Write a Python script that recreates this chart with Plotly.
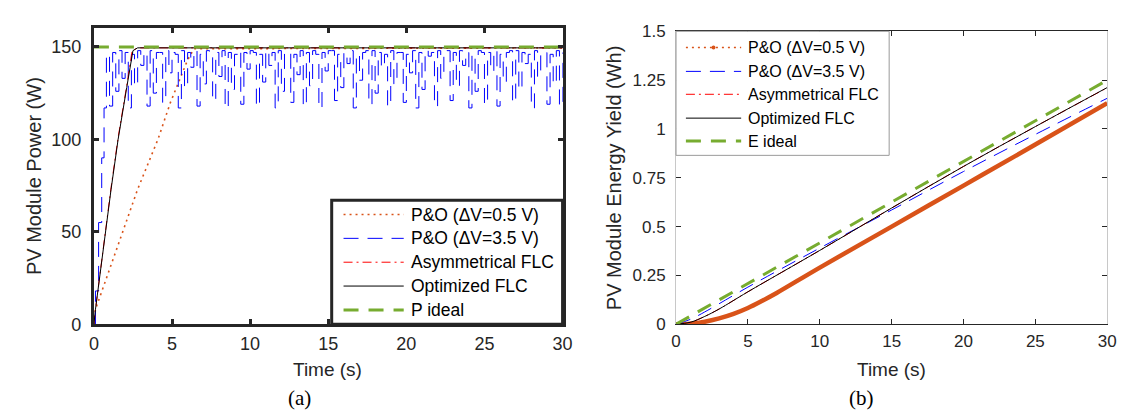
import numpy as np
import plotly.graph_objects as go

# ---- (a) PV module power, W ----
t_po05 = [0, 0.1, 2.8, 4.1, 4.9, 5.5, 6.0, 6.4, 30]
p_po05 = [0, 8, 73, 100, 120, 133, 143, 149, 149.5]

t_po35_rise = [0, 0.1, 0.3, 0.5, 0.65]
p_po35_rise = [0, 18, 55, 90, 117]
# P&O 3.5 V oscillation, sampled every 0.2 s from 0.8 s
p_po35_osc = [
    146, 118, 147, 126, 148, 133, 147, 117, 146, 129, 148, 140, 147, 118, 148, 125, 147, 147, 120, 148, 136, 147, 146, 117, 148, 128,
    147, 139, 148, 118, 146, 130, 148, 146, 121, 147, 134, 148, 117, 147, 127, 146, 148, 119, 147, 138, 148, 147, 118, 146, 131, 148,
    140, 147, 117, 148, 126, 147, 147, 120, 146, 135, 148, 118, 147, 129, 148, 146, 117, 147, 137, 148, 148, 121, 146, 128, 147, 141,
    148, 117, 146, 132, 147, 148, 119, 148, 125, 147, 139, 146, 118, 148, 130, 147, 147, 120, 146, 136, 148, 117, 147, 127, 148, 145,
    147, 118, 148, 133, 146, 148, 121, 147, 129, 148, 140, 147, 117, 146, 126, 148, 147, 119, 147, 137, 148, 118, 146, 131, 147, 148,
    120, 148, 127, 147, 141, 146, 117, 148, 134, 147, 147, 119, 146, 130, 148, 118, 147,
]
t_po35_osc = np.round(0.8 + 0.2 * np.arange(len(p_po35_osc)), 2)

t_asym = [0, 0.1, 1.1, 1.55, 2.1, 2.45, 2.8, 30]
p_asym = [0, 8, 74, 101, 129, 148, 149.5, 149.5]
t_opt = [0, 0.1, 1.1, 1.55, 2.1, 2.5, 2.8, 30]
p_opt = [0, 8, 73, 100, 128, 148, 149.5, 149.5]
t_ideal = [0, 30]
p_ideal = [150, 150]

# ---- (b) PV module energy yield, Wh ----
t_e_po05 = [0, 1, 2, 3, 4, 5, 6, 7, 10, 15, 20, 25, 30]
e_po05 = [0, 0.003, 0.013, 0.03, 0.053, 0.083, 0.12, 0.16, 0.29, 0.5, 0.71, 0.92, 1.132]
t_e_po35 = [0, 1, 2, 5, 10, 15, 20, 25, 30]
e_po35 = [0, 0.025, 0.063, 0.19, 0.39, 0.585, 0.782, 0.972, 1.157]
t_e_asym = [0, 1, 2, 3, 5, 10, 15, 20, 25, 30]
e_asym = [0, 0.01, 0.04, 0.078, 0.166, 0.378, 0.595, 0.808, 1.012, 1.211]
t_e_opt = [0, 1, 2, 3, 5, 10, 15, 20, 25, 30]
e_opt = [0, 0.01, 0.04, 0.078, 0.166, 0.378, 0.595, 0.808, 1.012, 1.212]
t_e_ideal = [0, 30]
e_ideal = [0, 1.25]

names_a = ["P&O (ΔV=0.5 V)", "P&O (ΔV=3.5 V)", "Asymmetrical FLC", "Optimized FLC", "P ideal"]
names_b = ["P&O (ΔV=0.5 V)", "P&O (ΔV=3.5 V)", "Asymmetrical FLC", "Optimized FLC", "E ideal"]

ORANGE = "#D95319"
BLUE = "#0000FF"
RED = "#FF0000"
GREEN = "#77AC30"
AX = "#262626"
FONT = "Liberation Sans, Arial, sans-serif"
SERIF = "Liberation Serif, Times New Roman, serif"

# line styles shared by plot and legend: (colour, width, dash)
st_po05 = (ORANGE, 1.6, "2px,4px")
st_po35 = (BLUE, 1, "15px,9px")
st_asym = (RED, 1, "9px,4px,2px,4px")
st_opt = ("black", 1, "solid")
st_ideal = (GREEN, 3, "15px,10px")


def ln(st, **kw):
    return dict(color=st[0], width=st[1], dash=st[2], **kw)


fig = go.Figure()

# left panel
fig.add_trace(go.Scatter(x=t_po05, y=p_po05, mode="lines", name=names_a[0], line=ln(st_po05)))
fig.add_trace(go.Scatter(x=list(t_po35_rise) + list(t_po35_osc), y=p_po35_rise + p_po35_osc,
                         mode="lines", name=names_a[1], line=ln(st_po35, shape="hv")))
fig.add_trace(go.Scatter(x=t_asym, y=p_asym, mode="lines", name=names_a[2], line=ln(st_asym)))
fig.add_trace(go.Scatter(x=t_opt, y=p_opt, mode="lines", name=names_a[3], line=ln(st_opt)))
fig.add_trace(go.Scatter(x=t_ideal, y=p_ideal, mode="lines", name=names_a[4], line=ln(st_ideal)))

# right panel
fig.add_trace(go.Scatter(x=t_e_po05, y=e_po05, mode="lines", name=names_b[0],
                         line=dict(color=ORANGE, width=4.5, shape="spline"), xaxis="x2", yaxis="y2"))
fig.add_trace(go.Scatter(x=t_e_po35, y=e_po35, mode="lines", name=names_b[1],
                         line=ln(st_po35, shape="spline"), xaxis="x2", yaxis="y2"))
fig.add_trace(go.Scatter(x=t_e_asym, y=e_asym, mode="lines", name=names_b[2],
                         line=ln(st_asym, shape="spline"), xaxis="x2", yaxis="y2"))
fig.add_trace(go.Scatter(x=t_e_opt, y=e_opt, mode="lines", name=names_b[3],
                         line=ln(st_opt, shape="spline"), xaxis="x2", yaxis="y2"))
fig.add_trace(go.Scatter(x=t_e_ideal, y=e_ideal, mode="lines", name=names_b[4],
                         line=ln(st_ideal), xaxis="x2", yaxis="y2"))

W, H = 1125, 414


def px_x(p):
    return p / W


def px_y(p):
    return 1 - p / H


fig.update_layout(
    width=W, height=H,
    margin=dict(l=0, r=0, t=0, b=0),
    paper_bgcolor="white", plot_bgcolor="white",
    font=dict(family=FONT, color=AX),
    showlegend=False,
    xaxis=dict(domain=[px_x(82), px_x(557)], anchor="y", range=[0, 30],
               tickvals=[0, 5, 10, 15, 20, 25, 30], ticks="inside", ticklen=5, tickwidth=3,
               tickcolor=AX, showline=True, linewidth=3, linecolor=AX, mirror="ticks",
               showgrid=False, zeroline=False, tickfont=dict(family=FONT, size=18, color=AX),
               ticklabelstandoff=1),
    yaxis=dict(domain=[px_y(322), px_y(12)], anchor="x", range=[0, 160],
               tickvals=[0, 50, 100, 150], ticks="inside", ticklen=5, tickwidth=3,
               tickcolor=AX, showline=True, linewidth=3, linecolor=AX, mirror="ticks",
               showgrid=False, zeroline=False, tickfont=dict(family=FONT, size=18, color=AX),
               ticklabelstandoff=6),
    xaxis2=dict(domain=[px_x(672), px_x(1109)], anchor="y2", range=[0, 30],
                tickvals=[0, 5, 10, 15, 20, 25, 30], ticks="inside", ticklen=5, tickwidth=1,
                tickcolor=AX, showline=True, linewidth=1, linecolor=AX, mirror="ticks",
                showgrid=False, zeroline=False, tickfont=dict(family=FONT, size=17, color=AX),
                ticklabelstandoff=1),
    yaxis2=dict(domain=[px_y(322), px_y(15)], anchor="x2", range=[0, 1.5],
                tickvals=[0, 0.25, 0.5, 0.75, 1, 1.25, 1.5],
                ticktext=["0", "0.25", "0.5", "0.75", "1", "1.25", "1.5"],
                ticks="inside", ticklen=5, tickwidth=1,
                tickcolor=AX, showline=True, linewidth=1, linecolor="#c8c8c8", mirror="ticks",
                showgrid=False, zeroline=False, tickfont=dict(family=FONT, size=17, color=AX),
                ticklabelstandoff=6),
)

# axis titles and panel captions
annots = [
    ("Time (s)", 319, 369, 19, FONT, 0, AX),
    ("Time (s)", 890, 369, 19, FONT, 0, AX),
    ("(a)", 290, 399, 21, SERIF, 0, "black"),
    ("(b)", 860, 399, 21, SERIF, 0, "black"),
    ("PV Module Power (W)", 22, 167, 20, FONT, -90, AX),
    ("PV Module Energy Yield (Wh)", 609, 168, 20, FONT, -90, AX),
]
for text, x, y, size, fam, ang, col in annots:
    fig.add_annotation(text=text, x=px_x(x), y=px_y(y), xref="paper", yref="paper",
                       xanchor="center", yanchor="middle", showarrow=False, textangle=ang,
                       font=dict(family=fam, size=size, color=col))


# hand-placed legend boxes (MATLAB style)
def legend_box(x0, y0, x1, y1, rows, styles, names, sym_x0, sym_x1, text_x, size, border_col, border_w):
    fig.add_shape(type="rect", xref="paper", yref="paper",
                  x0=px_x(x0), x1=px_x(x1), y0=px_y(y1), y1=px_y(y0),
                  line=dict(color=border_col, width=border_w), fillcolor="white", layer="above")
    for ry, st, name in zip(rows, styles, names):
        fig.add_shape(type="line", xref="paper", yref="paper",
                      x0=px_x(sym_x0), x1=px_x(sym_x1), y0=px_y(ry), y1=px_y(ry),
                      line=ln(st), layer="above")
        fig.add_annotation(text=name, x=px_x(text_x), y=px_y(ry), xref="paper", yref="paper",
                           xanchor="left", yanchor="middle", showarrow=False,
                           font=dict(family=FONT, size=size, color="black"))


styles = [st_po05, st_po35, st_asym, st_opt, st_ideal]
legend_box(323, 192, 557, 322, [207, 232, 257, 282, 307], styles, names_a,
           335, 396, 401, 17.5, AX, 3)
legend_box(672, 15, 888, 145, [32, 57, 81, 106, 130], styles, names_b,
           682, 738, 743, 16, "#9a9a9a", 1)
# dot marker on the P&O 0.5 V symbol of panel (b)
fig.add_shape(type="circle", xref="paper", yref="paper",
              x0=px_x(708), x1=px_x(712), y0=px_y(34), y1=px_y(30),
              line=dict(color=ORANGE, width=0), fillcolor=ORANGE, layer="above")

fig.write_html("out.html")
